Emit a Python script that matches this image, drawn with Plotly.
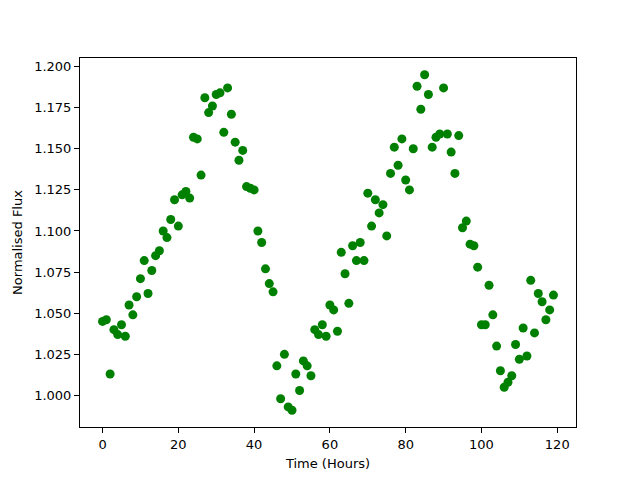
import plotly.graph_objects as go

time_hours = list(range(120))
flux = [
    1.045, 1.046, 1.013, 1.040, 1.037, 1.043, 1.036, 1.055, 1.049, 1.060,
    1.071, 1.082, 1.062, 1.076, 1.085, 1.088, 1.100, 1.096, 1.107, 1.119,
    1.103, 1.122, 1.124, 1.120, 1.157, 1.156, 1.134, 1.181, 1.172, 1.176,
    1.183, 1.184, 1.160, 1.187, 1.171, 1.154, 1.143, 1.149, 1.127, 1.126,
    1.125, 1.100, 1.093, 1.077, 1.068, 1.063, 1.018, 0.998, 1.025, 0.993,
    0.991, 1.013, 1.003, 1.021, 1.018, 1.012, 1.040, 1.037, 1.043, 1.036,
    1.055, 1.052, 1.039, 1.087, 1.074, 1.056, 1.091, 1.082, 1.093, 1.082,
    1.123, 1.103, 1.119, 1.111, 1.116, 1.097, 1.135, 1.151, 1.140, 1.156,
    1.131, 1.125, 1.150, 1.188, 1.174, 1.195, 1.183, 1.151, 1.157, 1.159,
    1.187, 1.159, 1.148, 1.135, 1.158, 1.102, 1.106, 1.092, 1.091, 1.078,
    1.043, 1.043, 1.067, 1.049, 1.030, 1.015, 1.005, 1.008, 1.012, 1.031,
    1.022, 1.041, 1.024, 1.070, 1.038, 1.062, 1.057, 1.046, 1.052, 1.061,
]
x_ticks = [0, 20, 40, 60, 80, 100, 120]
y_ticks = [1.000, 1.025, 1.050, 1.075, 1.100, 1.125, 1.150, 1.175, 1.200]

fig = go.Figure(go.Scatter(
    x=time_hours, y=flux, mode="markers",
    marker=dict(color="green", size=9, line=dict(width=0)),
))

axis_common = dict(
    showgrid=False, zeroline=False, showline=True, linecolor="black",
    linewidth=1, mirror=True, ticks="outside", ticklen=5, tickwidth=1,
    tickcolor="black", tickfont=dict(family="DejaVu Sans", size=13, color="black"),
    title_font=dict(family="DejaVu Sans", size=13, color="black"),
    automargin=False,
)
fig.update_xaxes(range=[-5.95, 124.95], tickvals=x_ticks,
                 title_text="Time (Hours)", title_standoff=8, **axis_common)
fig.update_yaxes(range=[0.9808, 1.2052], tickvals=y_ticks, tickformat=".3f",
                 title_text="Normalised Flux", title_standoff=8, **axis_common)
fig.update_layout(
    width=632, height=472,
    margin=dict(l=72, r=64, t=50, b=53),
    plot_bgcolor="white", paper_bgcolor="white",
    showlegend=False,
    font=dict(family="DejaVu Sans", size=13, color="black"),
)
fig.write_html("out.html")
